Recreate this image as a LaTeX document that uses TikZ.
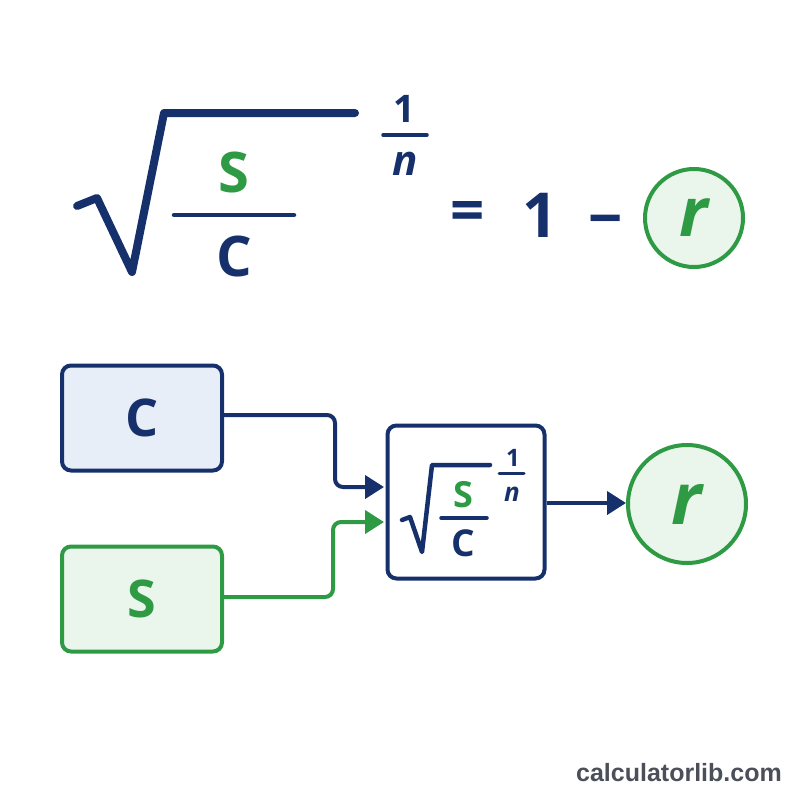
\documentclass[tikz,border=0pt]{standalone}
\usepackage{fontspec}
\setmainfont{Open Sans}
\newfontfamily\wmfont{Liberation Sans}
\usetikzlibrary{arrows.meta}
\definecolor{navy}{HTML}{15306B}
\definecolor{grn}{HTML}{2E9A44}
\definecolor{lblue}{HTML}{E8EEF8}
\definecolor{lgreen}{HTML}{EAF6EC}
\definecolor{wm}{HTML}{4A4F5A}
\tikzset{
  rad/.style={navy, line width=8pt, line cap=round, line join=round},
  radsm/.style={navy, line width=4.5pt, line cap=round, line join=round},
  bar/.style={navy, line width=4.5pt, line cap=round},
  barsm/.style={navy, line width=3.5pt, line cap=round},
  inbox/.style={rounded corners=9pt, line width=4pt, minimum width=160pt, minimum height=105pt},
  conn/.style={line width=4pt, rounded corners=8pt, -{Triangle[length=19pt,width=23pt]}},
  txt/.style={inner sep=0pt, font=\bfseries}
}
\begin{document}
\begin{tikzpicture}[x=1pt,y=-1pt]
\useasboundingbox (0,0) rectangle (800,800);
% top formula
\draw[rad] (77,206) -- (97,198) -- (132,272) -- (164,113) -- (355,113);
\node[txt, grn, font=\fontsize{56}{56}\selectfont\bfseries] (ts) at (234,172) {S};
\coordinate (tb1) at (174,215); \coordinate (tb2) at (294,215);
\draw[bar] (tb1) -- (tb2);
\node[txt, navy, font=\fontsize{56}{56}\selectfont\bfseries] (tc) at (234,256) {C};
\node[txt, navy, font=\fontsize{38}{38}\selectfont\bfseries] (te1) at (404,109) {1};
\coordinate (teb1) at (383,135); \coordinate (teb2) at (427,135);
\draw[barsm] (teb1) -- (teb2);
\node[txt, navy, font=\fontsize{42}{42}\selectfont\bfseries\itshape] (ten) at (405,164) {n};
\node[txt, navy, font=\fontsize{60}{60}\selectfont\bfseries] (teq) at (468,216) {=};
\node[txt, navy, font=\fontsize{62}{62}\selectfont\bfseries] (tone) at (540,215) {1};
\node[txt, navy, font=\fontsize{60}{60}\selectfont\bfseries] (tminus) at (606,227) {−};
\node[circle, draw=grn, fill=lgreen, line width=4pt, minimum size=98pt, inner sep=0pt, text=grn, font=\fontsize{68}{68}\selectfont\bfseries\itshape] (tr) at (694,218) {r};
% bottom diagram
\node[inbox, draw=navy, fill=lblue, text=navy, font=\fontsize{52}{52}\selectfont\bfseries] (c) at (142,418) {C};
\node[inbox, draw=grn, fill=lgreen, text=grn, font=\fontsize{52}{52}\selectfont\bfseries] (s) at (142,599) {S};
\node[rounded corners=9pt, line width=4pt, draw=navy, fill=white, minimum width=157pt, minimum height=153pt] (f) at (466,502) {};
\node[circle, draw=grn, fill=lgreen, line width=4pt, minimum size=118pt, inner sep=0pt, text=grn, font=\fontsize{72}{72}\selectfont\bfseries\itshape] (r) at (687,504) {r};
% formula in box
\draw[radsm] (402,520) -- (410,517) -- (422,552) -- (432,465) -- (490,465);
\node[txt, grn, font=\fontsize{36}{36}\selectfont\bfseries] (fs) at (463,495) {S};
\coordinate (fb1) at (441,518); \coordinate (fb2) at (487,518);
\draw[barsm] (fb1) -- (fb2);
\node[txt, navy, font=\fontsize{37}{37}\selectfont\bfseries] (fc) at (463,543) {C};
\node[txt, navy, font=\fontsize{24}{24}\selectfont\bfseries] (fe1) at (513,458) {1};
\coordinate (feb1) at (499,473); \coordinate (feb2) at (524,473);
\draw[navy, line width=3pt, line cap=round] (feb1) -- (feb2);
\node[txt, navy, font=\fontsize{26}{26}\selectfont\bfseries\itshape] (fen) at (512,494) {n};
% connectors
\coordinate (cin) at (384,487);
\coordinate (sin) at (384,522);
\draw[conn, navy] (c.east |- 0,415) -- (335,415) -- (335,487) -- (cin);
\draw[conn, grn] (s.east |- 0,597) -- (333,597) -- (333,522) -- (sin);
\draw[conn, navy, rounded corners=0pt] (f.east |- 0,503) -- (r.west |- 0,503);
% watermark
\node[inner sep=0pt, anchor=east, text=wm, font=\wmfont\fontsize{25}{25}\selectfont\bfseries] (wmk) at (782,773) {calculatorlib.com};
\end{tikzpicture}
\end{document}
